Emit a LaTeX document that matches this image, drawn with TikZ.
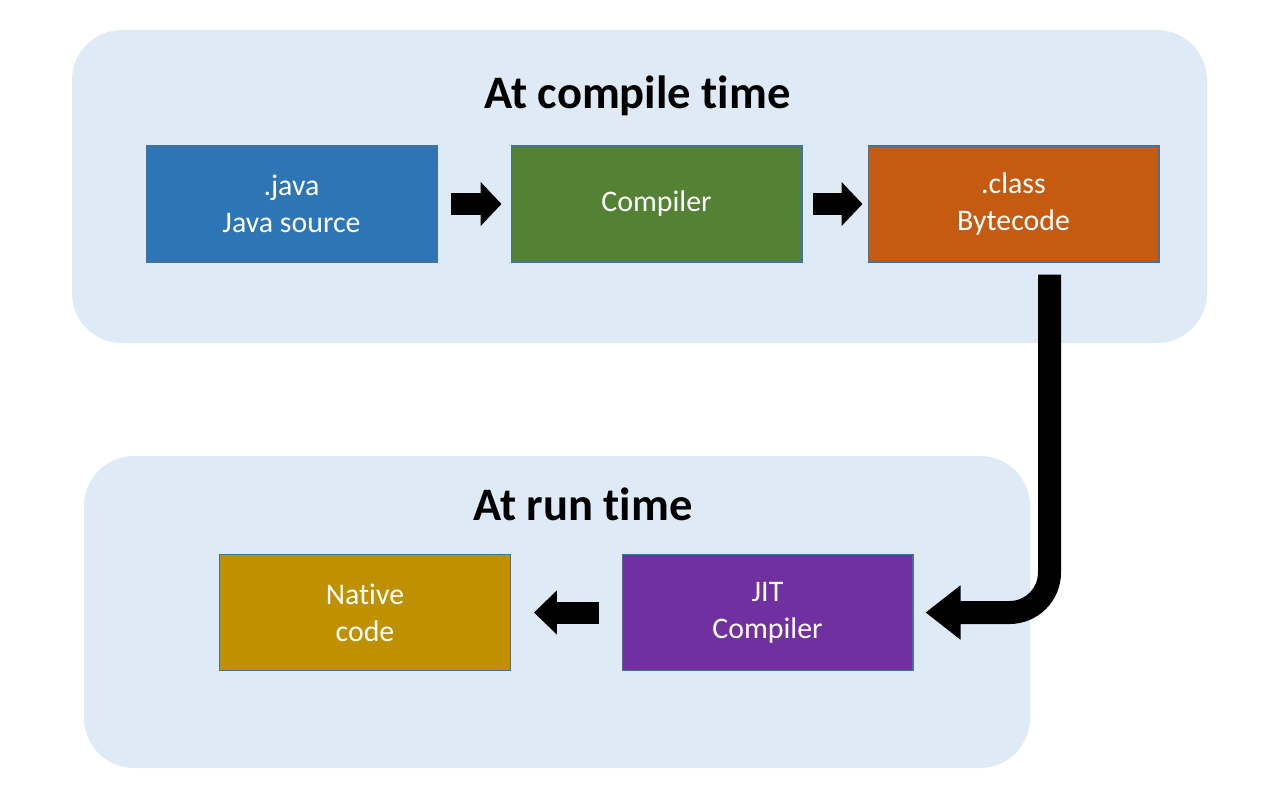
\documentclass[tikz,border=0pt]{standalone}
\usepackage{fontspec}
\setmainfont{Carlito}[Ligatures={NoCommon,NoContextual}, Contextuals={NoAlternate}]
\usetikzlibrary{arrows.meta}
\definecolor{panelbg}{HTML}{DEEBF7}
\definecolor{boxline}{HTML}{41719C}
\definecolor{javablue}{HTML}{2E75B6}
\definecolor{compgreen}{HTML}{548235}
\definecolor{classorange}{HTML}{C55A11}
\definecolor{nativegold}{HTML}{BF9000}
\definecolor{jitpurple}{HTML}{7030A0}

\begin{document}
\begin{tikzpicture}[
    x=0.02cm, y=-0.02cm,
    box/.style={draw=boxline, line width=0.6pt, text=white, align=center, minimum width=5.82cm, minimum height=2.32cm, inner sep=0pt, font=\fontsize{17}{21}\selectfont},
    panel/.style={fill=panelbg, rounded corners=1cm},
    title/.style={anchor=base, inner sep=0pt, font=\fontsize{26.5}{30}\selectfont\bfseries},
    flow/.style={line width=0.44cm, -{Triangle[length=0.42cm, width=0.86cm]}}]

    \useasboundingbox (0,0) rectangle (1280,805);

    % panely
    \fill[panel] (72,30) rectangle (1207,343);
    \fill[panel] (84,456) rectangle (1030,768);
    \node[title] (ctitle) at (637.5,108) {At compile t\kern0pt ime};
    \node[title] (rtitle) at (583,520) {At run t\kern0pt ime};

    % kompilace
    \node[box, fill=javablue] (java) at (291.5,204) {.java\\Java source};
    \node[box, fill=compgreen] (comp) at (656.5,204) {Compiler};
    \node[box, fill=classorange] (cls) at (1013.5,204) {.class\\Bytecode};

    % beh
    \node[box, fill=nativegold] (native) at (365,612.5) {Native\\code};
    \node[box, fill=jitpurple] (jit) at (767.5,612.5) {JIT\\Compiler};

    % sipky
    \draw[flow, shorten <=0.26cm, shorten >=0.18cm] (java) -- (comp);
    \draw[flow, shorten <=0.2cm, shorten >=0.1cm] (comp) -- (cls);
    \draw[flow, line width=0.46cm, -{Triangle[length=0.7cm, width=1.04cm]}, rounded corners=0.8cm, shorten <=0.24cm, shorten >=0.24cm] ([xshift=0.72cm]cls.south) |- (jit.east);
    \draw[flow, -{Triangle[length=0.46cm, width=0.86cm]}, shorten <=0.46cm, shorten >=0.46cm] (jit) -- (native);
\end{tikzpicture}
\end{document}
